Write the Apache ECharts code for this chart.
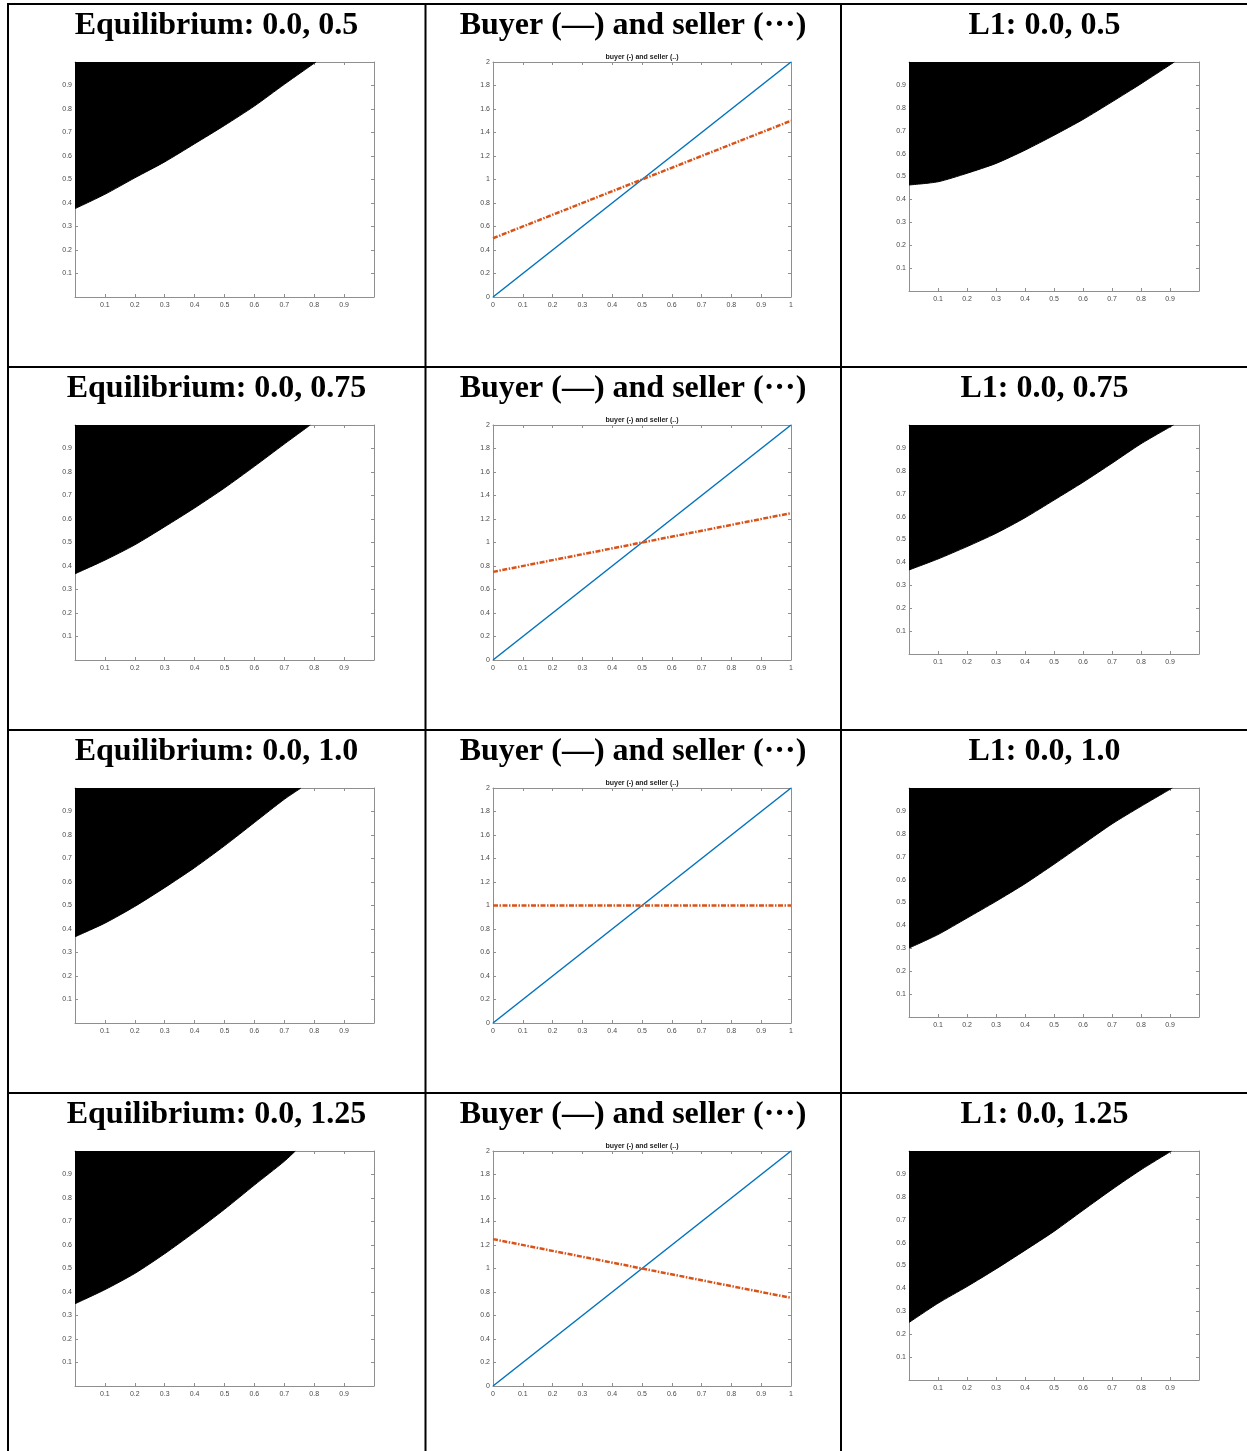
<!DOCTYPE html>
<html><head><meta charset="utf-8">
<script src="https://cdn.jsdelivr.net/npm/echarts@6.0.0/dist/echarts.min.js"></script>
<style>html,body{margin:0;padding:0;background:#fff;overflow:hidden}#c{width:1247px;height:1451px}</style>
</head><body><div id="c"></div>
<script>
// ---------- data ----------
const eqTitles = ['Equilibrium: 0.0, 0.5', 'Equilibrium: 0.0, 0.75', 'Equilibrium: 0.0, 1.0', 'Equilibrium: 0.0, 1.25'];
const l1Titles = ['L1: 0.0, 0.5', 'L1: 0.0, 0.75', 'L1: 0.0, 1.0', 'L1: 0.0, 1.25'];
const midTitle = 'Buyer (\u2014) and seller (\u00b7\u00b7\u00b7)';
const midSubTitle = 'buyer (-) and seller (..)';

const eqX = [0, 0.1, 0.2, 0.3, 0.4, 0.5, 0.6, 0.7];
const eqY05 = [0.376, 0.437, 0.507, 0.575, 0.652, 0.730, 0.8125, 0.905];
const eqY075 = [0.367, 0.425, 0.490, 0.567, 0.647, 0.732, 0.824, 0.919];
const eqY10 = [0.367, 0.425, 0.496, 0.576, 0.661, 0.754, 0.853, 0.952];
const eqY125 = [0.350, 0.410, 0.479, 0.563, 0.655, 0.752, 0.855, 0.956];
const eqEndX = [0.806, 0.787, 0.756, 0.737];   // where boundary reaches y = 1

const l1X = [0, 0.1, 0.2, 0.3, 0.4, 0.5, 0.6, 0.7, 0.8];
const l1Y05 = [0.463, 0.477, 0.514, 0.557, 0.615, 0.680, 0.749, 0.826, 0.905];
const l1Y075 = [0.367, 0.415, 0.469, 0.527, 0.595, 0.672, 0.750, 0.833, 0.918];
const l1Y10 = [0.301, 0.360, 0.432, 0.505, 0.582, 0.667, 0.755, 0.843, 0.920];
const l1Y125 = [0.251, 0.335, 0.408, 0.485, 0.566, 0.649, 0.741, 0.832, 0.918];
const l1EndX = [0.915, 0.912, 0.908, 0.905];

const buyerX = [0, 1];
const buyerY = [0, 2];
const sellerX = [0, 1];
const sellerStartY = [0.5, 0.75, 1.0, 1.25];
const sellerEndY = [1.5, 1.25, 1.0, 0.75];

const unitTickLabels = ['', '0.1', '0.2', '0.3', '0.4', '0.5', '0.6', '0.7', '0.8', '0.9', ''];
const midXTickLabels = ['0', '0.1', '0.2', '0.3', '0.4', '0.5', '0.6', '0.7', '0.8', '0.9', '1'];
const midYTickLabels = ['0', '0.2', '0.4', '0.6', '0.8', '1', '1.2', '1.4', '1.6', '1.8', '2'];

const eqYs = [eqY05, eqY075, eqY10, eqY125];
const l1Ys = [l1Y05, l1Y075, l1Y10, l1Y125];

// ---------- layout ----------
const ROW = 363;
const cols = [
  {left: 75, width: 299, top: 62, height: 235, cx: 216.5},
  {left: 493, width: 298, top: 62, height: 235, cx: 633},
  {left: 909, width: 290, top: 62, height: 229, cx: 1044.5}
];
const AX = '#8f8f8f', LBL = '#4a4a4a';
const lblFont = {fontFamily: 'Liberation Sans', fontSize: 7, color: LBL};

const grid = [], xAxis = [], yAxis = [], series = [], graphic = [];

function addPanel(r, c, ymax, yint, xLabels, yLabels) {
  const g = cols[c];
  const gi = grid.length;
  grid.push({left: g.left, top: g.top + r * ROW, width: g.width, height: g.height, containLabel: false});
  const tick = {show: true, inside: true, length: 3, lineStyle: {color: AX, width: 1}};
  const line = {show: true, onZero: false, lineStyle: {color: AX, width: 1}};
  const xi = xAxis.length, yi = yAxis.length;
  xAxis.push({type: 'value', gridIndex: gi, min: 0, max: 1, interval: 0.1, position: 'bottom',
    axisLine: line, axisTick: tick, splitLine: {show: false},
    axisLabel: Object.assign({margin: 5, formatter: v => xLabels[Math.round(v / 0.1)]}, lblFont)});
  xAxis.push({type: 'value', gridIndex: gi, min: 0, max: 1, interval: 0.1, position: 'top',
    axisLine: line, axisTick: tick, splitLine: {show: false}, axisLabel: {show: false}});
  yAxis.push({type: 'value', gridIndex: gi, min: 0, max: ymax, interval: yint, position: 'left',
    axisLine: line, axisTick: tick, splitLine: {show: false},
    axisLabel: Object.assign({margin: 3, formatter: v => yLabels[Math.round(v / yint)]}, lblFont)});
  yAxis.push({type: 'value', gridIndex: gi, min: 0, max: ymax, interval: yint, position: 'right',
    axisLine: line, axisTick: tick, splitLine: {show: false}, axisLabel: {show: false}});
  return {xi, yi};
}

function regionSeries(ax, xs, ys, endX) {
  const pts = xs.map((x, i) => [x, ys[i]]);
  pts.push([endX, 1]);
  series.push({type: 'line', xAxisIndex: ax.xi, yAxisIndex: ax.yi, data: pts,
    smooth: 0.25, symbol: 'none', silent: true, z: 1,
    lineStyle: {color: '#000', width: 1},
    areaStyle: {color: '#000', opacity: 1, origin: 'end'}});
}

for (let r = 0; r < 4; r++) {
  // column 1: equilibrium region
  let ax = addPanel(r, 0, 1, 0.1, unitTickLabels, unitTickLabels);
  regionSeries(ax, eqX, eqYs[r], eqEndX[r]);
  // column 2: buyer & seller
  ax = addPanel(r, 1, 2, 0.2, midXTickLabels, midYTickLabels);
  series.push({type: 'line', xAxisIndex: ax.xi, yAxisIndex: ax.yi,
    data: buyerX.map((x, i) => [x, buyerY[i]]), symbol: 'none', silent: true, z: 3,
    lineStyle: {color: '#0072BD', width: 1.5}});
  series.push({type: 'line', xAxisIndex: ax.xi, yAxisIndex: ax.yi,
    data: [[sellerX[0], sellerStartY[r]], [sellerX[1], sellerEndY[r]]], symbol: 'none', silent: true, z: 4,
    lineStyle: {color: '#D95319', width: 2.5, type: [5, 1.5, 1.5, 1.5]}});
  // column 3: L1 region
  ax = addPanel(r, 2, 1, 0.1, unitTickLabels, unitTickLabels);
  regionSeries(ax, l1X, l1Ys[r], l1EndX[r]);

  // titles
  const ty = 26 + r * ROW;
  const tFont = {fontFamily: 'Liberation Serif', fontSize: 32, fontWeight: 'bold', fill: '#000',
    textAlign: 'center', textVerticalAlign: 'middle'};
  graphic.push({type: 'text', x: cols[0].cx, y: ty, style: Object.assign({text: eqTitles[r]}, tFont)});
  graphic.push({type: 'text', x: cols[1].cx, y: ty, style: Object.assign({text: midTitle}, tFont)});
  graphic.push({type: 'text', x: cols[2].cx, y: ty, style: Object.assign({text: l1Titles[r]}, tFont)});
  graphic.push({type: 'text', x: cols[1].left + cols[1].width / 2, y: 57 + r * ROW,
    style: {text: midSubTitle, fontFamily: 'Liberation Sans', fontSize: 7, fontWeight: 'bold', fill: '#222',
      textAlign: 'center', textVerticalAlign: 'middle'}});
}

// table borders
const B = '#000';
graphic.push({type: 'rect', shape: {x: 7, y: 3, width: 1240, height: 2}, style: {fill: B}});
graphic.push({type: 'rect', shape: {x: 7, y: 3, width: 2, height: 1448}, style: {fill: B}});
graphic.push({type: 'rect', shape: {x: 424.5, y: 3, width: 2, height: 1448}, style: {fill: B}});
graphic.push({type: 'rect', shape: {x: 840, y: 3, width: 2, height: 1448}, style: {fill: B}});
[366, 729, 1092].forEach(y => graphic.push({type: 'rect', shape: {x: 7, y: y, width: 1240, height: 2}, style: {fill: B}}));

const chart = echarts.init(document.getElementById('c'), null, {renderer: 'canvas'});
chart.setOption({animation: false, backgroundColor: '#fff', grid, xAxis, yAxis, series, graphic});
</script></body></html>
